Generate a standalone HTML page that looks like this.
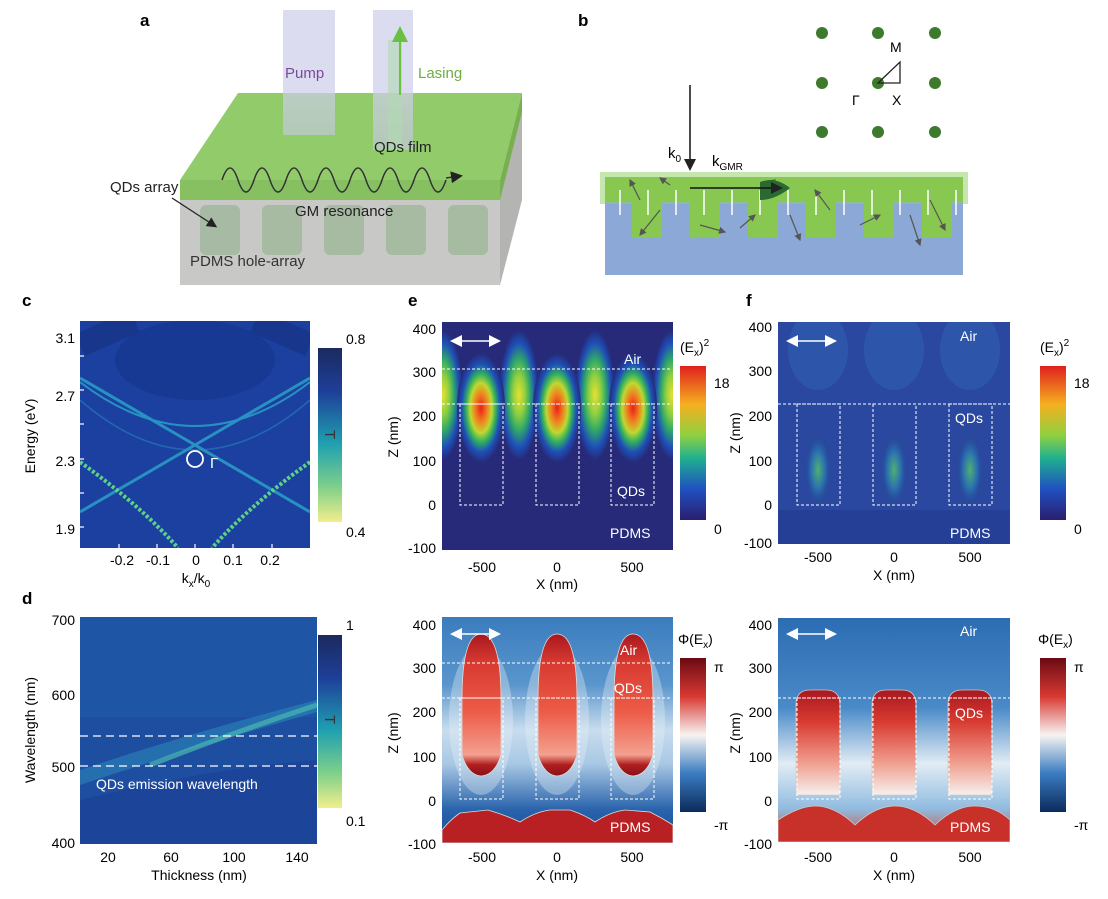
<!DOCTYPE html>
<html><head><meta charset="utf-8"><style>
body{margin:0;background:#fff}
svg text{font-family:"Liberation Sans",Arial,sans-serif;}
</style></head><body>
<svg width="1108" height="894" viewBox="0 0 1108 894" xmlns="http://www.w3.org/2000/svg">
<defs>
<linearGradient id="viri" x1="0" y1="0" x2="0" y2="1">
<stop offset="0" stop-color="#1b2a5e"/><stop offset="0.25" stop-color="#1e3f99"/><stop offset="0.55" stop-color="#1fa0b0"/><stop offset="0.8" stop-color="#7fd08a"/><stop offset="1" stop-color="#f2ee8c"/></linearGradient>
<linearGradient id="jet" x1="0" y1="0" x2="0" y2="1">
<stop offset="0" stop-color="#e0201e"/><stop offset="0.25" stop-color="#f5b020"/><stop offset="0.45" stop-color="#8fd040"/><stop offset="0.6" stop-color="#20b090"/><stop offset="0.8" stop-color="#2050c0"/><stop offset="1" stop-color="#2a1e6e"/></linearGradient>
<linearGradient id="phase" x1="0" y1="0" x2="0" y2="1">
<stop offset="0" stop-color="#6b0a14"/><stop offset="0.25" stop-color="#d83a32"/><stop offset="0.5" stop-color="#f7f4f2"/><stop offset="0.75" stop-color="#3a7cc0"/><stop offset="1" stop-color="#0c2a5c"/></linearGradient>
<radialGradient id="hot" cx="0.5" cy="0.5" r="0.5">
<stop offset="0" stop-color="#e82018"/><stop offset="0.25" stop-color="#f08020"/><stop offset="0.45" stop-color="#c0d830"/><stop offset="0.62" stop-color="#30b060"/><stop offset="0.8" stop-color="#1e50b8"/><stop offset="1" stop-color="#262a78"/></radialGradient>
<radialGradient id="warm" cx="0.5" cy="0.5" r="0.5">
<stop offset="0" stop-color="#e8e030"/><stop offset="0.3" stop-color="#90d040"/><stop offset="0.55" stop-color="#30a868"/><stop offset="0.8" stop-color="#1e50b8"/><stop offset="1" stop-color="#262a78"/></radialGradient>
<radialGradient id="weak" cx="0.5" cy="0.5" r="0.5">
<stop offset="0" stop-color="#50b070"/><stop offset="0.5" stop-color="#2a70b0"/><stop offset="1" stop-color="#24408a" stop-opacity="0"/></radialGradient>
<linearGradient id="redE" x1="0" y1="0" x2="0" y2="1">
<stop offset="0" stop-color="#a81820"/><stop offset="0.2" stop-color="#d83a30"/><stop offset="0.55" stop-color="#ec5c48"/><stop offset="0.85" stop-color="#f4a090"/><stop offset="0.92" stop-color="#b02020"/><stop offset="1" stop-color="#8a1018"/></linearGradient>
<linearGradient id="redF" x1="0" y1="0" x2="0" y2="1">
<stop offset="0" stop-color="#a81820"/><stop offset="0.3" stop-color="#d83a30"/><stop offset="0.7" stop-color="#f0a090"/><stop offset="1" stop-color="#f6f0ee"/></linearGradient>
<linearGradient id="bgP" x1="0" y1="0" x2="0" y2="1">
<stop offset="0" stop-color="#3a7cbe"/><stop offset="0.3" stop-color="#5a96cc"/><stop offset="0.5" stop-color="#c8dcee"/><stop offset="0.65" stop-color="#a8c8e4"/><stop offset="0.85" stop-color="#2a64ac"/><stop offset="1" stop-color="#1a4a94"/></linearGradient>
<linearGradient id="bgF" x1="0" y1="0" x2="0" y2="1">
<stop offset="0" stop-color="#2c6cb2"/><stop offset="0.4" stop-color="#4a8ac8"/><stop offset="0.65" stop-color="#e2ecf4"/><stop offset="0.85" stop-color="#90bce0"/><stop offset="1" stop-color="#c84a3a"/></linearGradient>
<linearGradient id="pump" x1="0" y1="0" x2="0" y2="1"><stop offset="0" stop-color="#d8d8ee" stop-opacity="0.9"/><stop offset="1" stop-color="#c8c8e8" stop-opacity="0.6"/></linearGradient>
<clipPath id="cc"><rect x="80" y="321" width="230" height="227"/></clipPath>
<marker id="ah" markerWidth="8" markerHeight="8" refX="6" refY="4" orient="auto"><path d="M0,0 L8,4 L0,8 z" fill="#fff"/></marker>
<marker id="ahk" markerWidth="8" markerHeight="8" refX="6" refY="4" orient="auto"><path d="M0,0 L8,4 L0,8 z" fill="#222"/></marker>
<marker id="ahg" markerWidth="6" markerHeight="6" refX="5" refY="3" orient="auto"><path d="M0,0 L6,3 L0,6 z" fill="#555"/></marker>
<marker id="ahgr" markerWidth="8" markerHeight="8" refX="6" refY="4" orient="auto"><path d="M0,0 L8,4 L0,8 z" fill="#6ac040"/></marker>
<marker id="ahs" markerWidth="8" markerHeight="8" refX="6" refY="4" orient="auto-start-reverse"><path d="M0,0 L8,4 L0,8 z" fill="#fff"/></marker>
</defs>

<!-- Panel a -->
<text x="140" y="26" font-size="17" font-weight="bold">a</text>
<polygon points="180,180 500,180 500,285 180,285" fill="#c8c9c6"/>
<polygon points="500,180 522,93 522,200 500,285" fill="#b4b5b2"/>
<polygon points="180,180 500,180 500,200 180,200" fill="#86c060"/>
<polygon points="500,180 522,93 522,112 500,200" fill="#78b050"/>
<polygon points="180,180 238,93 522,93 500,180" fill="#92cc6a"/>
<g fill="#9fb79a" opacity="0.8">
<rect x="200" y="205" width="40" height="50" rx="6"/><rect x="262" y="205" width="40" height="50" rx="6"/><rect x="324" y="205" width="40" height="50" rx="6"/><rect x="386" y="205" width="40" height="50" rx="6"/><rect x="448" y="205" width="40" height="50" rx="6"/></g>
<rect x="283" y="10" width="52" height="125" fill="url(#pump)"/>
<rect x="373" y="10" width="40" height="140" fill="url(#pump)"/>
<rect x="388" y="40" width="14" height="110" fill="#b0d8b0" opacity="0.6"/>
<line x1="400" y1="95" x2="400" y2="30" stroke="#6ac040" stroke-width="2" marker-end="url(#ahgr)"/>
<path d="M222,180 q8,-24 16,0 t16,0 t16,0 t16,0 t16,0 t16,0 t16,0 t16,0 t16,0 t16,0 t16,0 t16,0 t16,0 t16,0" fill="none" stroke="#333" stroke-width="1.5"/>
<line x1="446" y1="178" x2="460" y2="176" stroke="#333" stroke-width="1.5" marker-end="url(#ahk)"/>
<text x="285" y="78" font-size="15" fill="#7a4a9a">Pump</text>
<text x="418" y="78" font-size="15" fill="#6ab040">Lasing</text>
<text x="374" y="152" font-size="15" fill="#222">QDs film</text>
<text x="110" y="192" font-size="15" fill="#222">QDs array</text>
<line x1="172" y1="198" x2="215" y2="226" stroke="#222" stroke-width="1.3" marker-end="url(#ahk)"/>
<text x="295" y="216" font-size="15" fill="#222">GM resonance</text>
<text x="190" y="266" font-size="15" fill="#333">PDMS hole-array</text>

<!-- Panel b -->
<text x="578" y="26" font-size="17" font-weight="bold">b</text>
<g fill="#3e7a2e">
<circle cx="822" cy="33" r="6"/><circle cx="878" cy="33" r="6"/><circle cx="935" cy="33" r="6"/>
<circle cx="822" cy="83" r="6"/><circle cx="878" cy="83" r="6"/><circle cx="935" cy="83" r="6"/>
<circle cx="822" cy="132" r="6"/><circle cx="878" cy="132" r="6"/><circle cx="935" cy="132" r="6"/></g>
<polygon points="878,83 900,83 900,62" fill="none" stroke="#222" stroke-width="1.3"/>
<text x="890" y="52" font-size="14">M</text><text x="852" y="105" font-size="14">Γ</text><text x="892" y="105" font-size="14">X</text>
<rect x="605" y="200" width="358" height="75" fill="#8ca8d6"/>
<rect x="600" y="172" width="368" height="32" fill="#8cd060" opacity="0.5"/>
<rect x="605" y="177" width="358" height="25" fill="#88c850"/>
<g fill="#88c850"><rect x="632" y="200" width="30" height="38"/><rect x="690" y="200" width="30" height="38"/><rect x="748" y="200" width="30" height="38"/><rect x="806" y="200" width="30" height="38"/><rect x="864" y="200" width="30" height="38"/><rect x="922" y="200" width="30" height="38"/></g>
<g stroke="#fff" stroke-width="1.5">
<line x1="620" y1="215" x2="620" y2="190"/><line x1="648" y1="215" x2="648" y2="190"/><line x1="676" y1="215" x2="676" y2="190"/><line x1="704" y1="215" x2="704" y2="190"/><line x1="732" y1="215" x2="732" y2="190"/><line x1="760" y1="215" x2="760" y2="190"/><line x1="788" y1="215" x2="788" y2="190"/><line x1="816" y1="215" x2="816" y2="190"/><line x1="844" y1="215" x2="844" y2="190"/><line x1="872" y1="215" x2="872" y2="190"/><line x1="900" y1="215" x2="900" y2="190"/><line x1="928" y1="215" x2="928" y2="190"/><line x1="956" y1="215" x2="956" y2="190"/></g>
<g stroke="#555" stroke-width="1.2" marker-end="url(#ahg)">
<line x1="640" y1="200" x2="630" y2="180"/><line x1="660" y1="210" x2="640" y2="235"/><line x1="700" y1="225" x2="725" y2="232"/><line x1="740" y1="228" x2="755" y2="215"/><line x1="790" y1="215" x2="800" y2="240"/><line x1="830" y1="210" x2="815" y2="190"/><line x1="860" y1="225" x2="880" y2="215"/><line x1="910" y1="215" x2="920" y2="245"/><line x1="930" y1="200" x2="945" y2="230"/><line x1="670" y1="185" x2="660" y2="178"/><line x1="760" y1="190" x2="775" y2="180"/></g>
<path d="M760,182 q15,-6 30,6 q-15,12 -30,12 z" fill="#2a6a30"/>
<line x1="690" y1="188" x2="780" y2="188" stroke="#111" stroke-width="1.5" marker-end="url(#ahk)"/>
<line x1="690" y1="85" x2="690" y2="168" stroke="#111" stroke-width="1.5" marker-end="url(#ahk)"/>
<text x="668" y="158" font-size="15">k<tspan font-size="10" dy="4">0</tspan></text>
<text x="712" y="166" font-size="15">k<tspan font-size="10" dy="4">GMR</tspan></text>

<!-- Panel c -->
<text x="22" y="306" font-size="17" font-weight="bold">c</text>
<g clip-path="url(#cc)">
<rect x="80" y="321" width="230" height="227" fill="#1b40a0"/>
<path d="M80,345 L135,321 M310,345 L255,321" stroke="#16307a" stroke-width="24" opacity="0.5"/>
<ellipse cx="195" cy="360" rx="80" ry="40" fill="#17358a" opacity="0.6"/>
<g fill="none" stroke="#2aa0c8" stroke-width="3" opacity="0.85">
<path d="M80,512 L195,445 L310,378"/><path d="M310,512 L195,445 L80,378"/>
<path d="M80,382 Q195,470 310,382" stroke-width="2"/>
<path d="M80,400 Q195,500 310,400" stroke-width="1.5" opacity="0.5"/>
</g>
<g fill="none" stroke="#5ed088" stroke-width="4" stroke-dasharray="3,2">
<path d="M80,462 Q140,505 178,548"/><path d="M310,462 Q250,505 212,548"/></g>
</g>
<circle cx="195" cy="459" r="8" fill="none" stroke="#fff" stroke-width="1.8"/>
<text x="210" y="468" font-size="15" fill="#fff">Γ</text>
<g stroke="#fff" stroke-width="1.2"><line x1="80" y1="356" x2="84" y2="356"/><line x1="80" y1="390" x2="84" y2="390"/><line x1="80" y1="424" x2="84" y2="424"/><line x1="80" y1="459" x2="84" y2="459"/><line x1="80" y1="493" x2="84" y2="493"/><line x1="80" y1="527" x2="84" y2="527"/>
<line x1="119" y1="548" x2="119" y2="544"/><line x1="157" y1="548" x2="157" y2="544"/><line x1="195" y1="548" x2="195" y2="544"/><line x1="233" y1="548" x2="233" y2="544"/><line x1="272" y1="548" x2="272" y2="544"/></g>
<g font-size="14" text-anchor="end"><text x="75" y="343">3.1</text><text x="75" y="401">2.7</text><text x="75" y="466">2.3</text><text x="75" y="534">1.9</text></g>
<g font-size="14" text-anchor="middle"><text x="122" y="565">-0.2</text><text x="158" y="565">-0.1</text><text x="196" y="565">0</text><text x="233" y="565">0.1</text><text x="270" y="565">0.2</text></g>
<text x="196" y="583" font-size="14" text-anchor="middle">k<tspan font-size="10" dy="4">x</tspan><tspan dy="-4">/k</tspan><tspan font-size="10" dy="4">0</tspan></text>
<text transform="translate(35,436) rotate(-90)" font-size="14" text-anchor="middle">Energy (eV)</text>
<rect x="318" y="348" width="24" height="174" fill="url(#viri)"/>
<text x="346" y="344" font-size="14">0.8</text><text x="346" y="537" font-size="14">0.4</text>
<text transform="translate(325,430) rotate(90)" font-size="15" fill="#333">T</text>

<!-- Panel d -->
<text x="22" y="604" font-size="17" font-weight="bold">d</text>
<rect x="80" y="617" width="237" height="227" fill="#1e4ea0"/>
<rect x="80" y="617" width="237" height="100" fill="#1f5aa8" opacity="0.6"/>
<path d="M80,770 Q200,730 317,700 L317,712 Q200,745 80,785 z" fill="#2a86b8" opacity="0.6"/>
<path d="M150,765 Q240,730 317,705" stroke="#48b8b0" stroke-width="5" fill="none" opacity="0.7"/>
<path d="M80,800 Q200,770 317,760 L317,844 L80,844 z" fill="#1b3f94" opacity="0.6"/>
<line x1="80" y1="736" x2="317" y2="736" stroke="#fff" stroke-width="1.3" stroke-dasharray="8,5"/>
<line x1="80" y1="766" x2="317" y2="766" stroke="#fff" stroke-width="1.3" stroke-dasharray="8,5"/>
<text x="96" y="789" font-size="14" fill="#fff">QDs emission wavelength</text>
<g font-size="14" text-anchor="end"><text x="75" y="625">700</text><text x="75" y="700">600</text><text x="75" y="772">500</text><text x="75" y="848">400</text></g>
<g font-size="14" text-anchor="middle"><text x="108" y="862">20</text><text x="171" y="862">60</text><text x="234" y="862">100</text><text x="297" y="862">140</text></g>
<text x="199" y="880" font-size="14" text-anchor="middle">Thickness (nm)</text>
<text transform="translate(35,730) rotate(-90)" font-size="14" text-anchor="middle">Wavelength (nm)</text>
<rect x="318" y="635" width="24" height="173" fill="url(#viri)"/>
<text x="346" y="630" font-size="14">1</text><text x="346" y="826" font-size="14">0.1</text>
<text transform="translate(325,715) rotate(90)" font-size="15" fill="#333">T</text>

<!-- Panel e top -->
<text x="408" y="306" font-size="17" font-weight="bold">e</text>
<svg x="442" y="322" width="231" height="228" viewBox="442 322 231 228">
<rect x="442" y="322" width="231" height="228" fill="#262a78"/>
<ellipse cx="519" cy="395" rx="20" ry="65" fill="url(#warm)"/>
<ellipse cx="595" cy="395" rx="20" ry="65" fill="url(#warm)"/>
<ellipse cx="443" cy="395" rx="20" ry="65" fill="url(#warm)"/>
<ellipse cx="672" cy="395" rx="20" ry="65" fill="url(#warm)"/>
<ellipse cx="481" cy="408" rx="24" ry="55" fill="url(#hot)"/>
<ellipse cx="557" cy="408" rx="24" ry="55" fill="url(#hot)"/>
<ellipse cx="633" cy="408" rx="24" ry="55" fill="url(#hot)"/>
</svg>
<g fill="none" stroke="#fff" stroke-width="1" stroke-dasharray="3,2">
<line x1="442" y1="369" x2="672" y2="369"/><line x1="442" y1="404" x2="672" y2="404"/>
<rect x="460" y="404" width="43" height="101"/><rect x="536" y="404" width="43" height="101"/><rect x="611" y="404" width="43" height="101"/></g>
<line x1="453" y1="341" x2="498" y2="341" stroke="#fff" stroke-width="1.5" marker-end="url(#ah)" marker-start="url(#ahs)"/>
<text x="624" y="364" font-size="14" fill="#fff">Air</text><text x="617" y="496" font-size="14" fill="#fff">QDs</text><text x="610" y="538" font-size="14" fill="#fff">PDMS</text>
<g font-size="14" text-anchor="end"><text x="436" y="334">400</text><text x="436" y="377">300</text><text x="436" y="421">200</text><text x="436" y="466">100</text><text x="436" y="510">0</text><text x="436" y="553">-100</text></g>
<g font-size="14" text-anchor="middle"><text x="482" y="572">-500</text><text x="557" y="572">0</text><text x="632" y="572">500</text></g>
<text x="557" y="589" font-size="14" text-anchor="middle">X (nm)</text>
<text transform="translate(398,437) rotate(-90)" font-size="14" text-anchor="middle">Z (nm)</text>
<text x="680" y="352" font-size="14">(E<tspan font-size="10" dy="4">x</tspan><tspan dy="-4">)</tspan><tspan font-size="10" dy="-6">2</tspan></text>
<rect x="680" y="366" width="26" height="154" fill="url(#jet)"/>
<text x="714" y="388" font-size="14">18</text><text x="714" y="534" font-size="14">0</text>

<!-- Panel e bottom -->
<svg x="442" y="617" width="231" height="226" viewBox="442 617 231 226">
<rect x="442" y="617" width="231" height="226" fill="url(#bgP)"/>
<ellipse cx="481" cy="720" rx="32" ry="75" fill="#e8f0f6" opacity="0.35"/>
<ellipse cx="557" cy="720" rx="32" ry="75" fill="#e8f0f6" opacity="0.35"/>
<ellipse cx="633" cy="720" rx="32" ry="75" fill="#e8f0f6" opacity="0.35"/>
<path d="M462,700 Q462,634 481,634 Q501,634 501,700 L501,755 Q495,775 481,776 Q468,775 462,755 z" fill="url(#redE)" stroke="#ddd" stroke-width="0.8"/>
<path d="M538,700 Q538,634 557,634 Q577,634 577,700 L577,755 Q571,775 557,776 Q544,775 538,755 z" fill="url(#redE)" stroke="#ddd" stroke-width="0.8"/>
<path d="M614,700 Q614,634 633,634 Q653,634 653,700 L653,755 Q647,775 633,776 Q620,775 614,755 z" fill="url(#redE)" stroke="#ddd" stroke-width="0.8"/>
<path d="M442,843 L442,830 Q450,820 460,813 L488,810 Q505,815 520,822 Q535,812 550,810 L570,810 Q585,815 595,822 Q610,812 625,810 L650,812 Q662,818 673,825 L673,843 z" fill="#b82024" stroke="#ddd" stroke-width="0.8"/>
</svg>
<g fill="none" stroke="#fff" stroke-width="1" stroke-dasharray="3,2">
<line x1="442" y1="663" x2="672" y2="663"/><line x1="442" y1="698" x2="672" y2="698"/>
<rect x="460" y="698" width="43" height="101"/><rect x="536" y="698" width="43" height="101"/><rect x="611" y="698" width="43" height="101"/></g>
<line x1="453" y1="634" x2="498" y2="634" stroke="#fff" stroke-width="1.5" marker-end="url(#ah)" marker-start="url(#ahs)"/>
<text x="620" y="655" font-size="14" fill="#fff">Air</text><text x="614" y="693" font-size="14" fill="#fff">QDs</text><text x="610" y="832" font-size="14" fill="#fff">PDMS</text>
<g font-size="14" text-anchor="end"><text x="436" y="630">400</text><text x="436" y="673">300</text><text x="436" y="717">200</text><text x="436" y="762">100</text><text x="436" y="806">0</text><text x="436" y="849">-100</text></g>
<g font-size="14" text-anchor="middle"><text x="482" y="862">-500</text><text x="557" y="862">0</text><text x="632" y="862">500</text></g>
<text x="557" y="880" font-size="14" text-anchor="middle">X (nm)</text>
<text transform="translate(398,733) rotate(-90)" font-size="14" text-anchor="middle">Z (nm)</text>
<text x="678" y="644" font-size="14">Φ(E<tspan font-size="10" dy="4">x</tspan><tspan dy="-4">)</tspan></text>
<rect x="680" y="658" width="26" height="154" fill="url(#phase)"/>
<text x="714" y="672" font-size="14">π</text><text x="714" y="830" font-size="14">-π</text>

<!-- Panel f top -->
<text x="746" y="306" font-size="17" font-weight="bold">f</text>
<svg x="778" y="322" width="232" height="222" viewBox="778 322 232 222">
<rect x="778" y="322" width="232" height="222" fill="#2a48a0"/>
<ellipse cx="818" cy="350" rx="30" ry="40" fill="#3060b0" opacity="0.6"/>
<ellipse cx="894" cy="350" rx="30" ry="40" fill="#3060b0" opacity="0.6"/>
<ellipse cx="970" cy="350" rx="30" ry="40" fill="#3060b0" opacity="0.6"/>
<ellipse cx="818" cy="470" rx="14" ry="38" fill="url(#weak)"/>
<ellipse cx="894" cy="470" rx="14" ry="38" fill="url(#weak)"/>
<ellipse cx="970" cy="470" rx="14" ry="38" fill="url(#weak)"/>
<rect x="778" y="510" width="232" height="34" fill="#253a90" opacity="0.6"/>
</svg>
<g fill="none" stroke="#fff" stroke-width="1" stroke-dasharray="3,2">
<line x1="778" y1="404" x2="1010" y2="404"/>
<rect x="797" y="404" width="43" height="101"/><rect x="873" y="404" width="43" height="101"/><rect x="949" y="404" width="43" height="101"/></g>
<line x1="789" y1="341" x2="834" y2="341" stroke="#fff" stroke-width="1.5" marker-end="url(#ah)" marker-start="url(#ahs)"/>
<text x="960" y="341" font-size="14" fill="#fff">Air</text><text x="955" y="423" font-size="14" fill="#fff">QDs</text><text x="950" y="538" font-size="14" fill="#fff">PDMS</text>
<g font-size="14" text-anchor="end"><text x="772" y="332">400</text><text x="772" y="376">300</text><text x="772" y="421">200</text><text x="772" y="466">100</text><text x="772" y="510">0</text><text x="772" y="548">-100</text></g>
<g font-size="14" text-anchor="middle"><text x="818" y="562">-500</text><text x="894" y="562">0</text><text x="970" y="562">500</text></g>
<text x="894" y="580" font-size="14" text-anchor="middle">X (nm)</text>
<text transform="translate(740,433) rotate(-90)" font-size="14" text-anchor="middle">Z (nm)</text>
<text x="1040" y="352" font-size="14">(E<tspan font-size="10" dy="4">x</tspan><tspan dy="-4">)</tspan><tspan font-size="10" dy="-6">2</tspan></text>
<rect x="1040" y="366" width="26" height="154" fill="url(#jet)"/>
<text x="1074" y="388" font-size="14">18</text><text x="1074" y="534" font-size="14">0</text>

<!-- Panel f bottom -->
<svg x="778" y="618" width="232" height="224" viewBox="778 618 232 224">
<rect x="778" y="618" width="232" height="224" fill="url(#bgF)"/>
<path d="M796,795 L796,705 Q796,690 810,690 L826,690 Q840,690 840,705 L840,795 z" fill="url(#redF)" stroke="#ccc" stroke-width="0.8"/>
<path d="M872,795 L872,705 Q872,690 886,690 L902,690 Q916,690 916,705 L916,795 z" fill="url(#redF)" stroke="#ccc" stroke-width="0.8"/>
<path d="M948,795 L948,705 Q948,690 962,690 L978,690 Q992,690 992,705 L992,795 z" fill="url(#redF)" stroke="#ccc" stroke-width="0.8"/>
<path d="M778,842 L778,820 Q800,806 815,806 Q835,806 855,825 Q875,806 895,806 Q915,806 935,825 Q955,806 975,806 Q995,806 1010,820 L1010,842 z" fill="#c8302a" stroke="#ccc" stroke-width="0.8"/>
</svg>
<g fill="none" stroke="#fff" stroke-width="1" stroke-dasharray="3,2">
<line x1="778" y1="698" x2="1010" y2="698"/>
<rect x="797" y="698" width="43" height="101"/><rect x="873" y="698" width="43" height="101"/><rect x="949" y="698" width="43" height="101"/></g>
<line x1="789" y1="634" x2="834" y2="634" stroke="#fff" stroke-width="1.5" marker-end="url(#ah)" marker-start="url(#ahs)"/>
<text x="960" y="636" font-size="14" fill="#fff">Air</text><text x="955" y="718" font-size="14" fill="#fff">QDs</text><text x="950" y="832" font-size="14" fill="#fff">PDMS</text>
<g font-size="14" text-anchor="end"><text x="772" y="630">400</text><text x="772" y="673">300</text><text x="772" y="717">200</text><text x="772" y="762">100</text><text x="772" y="806">0</text><text x="772" y="849">-100</text></g>
<g font-size="14" text-anchor="middle"><text x="818" y="862">-500</text><text x="894" y="862">0</text><text x="970" y="862">500</text></g>
<text x="894" y="880" font-size="14" text-anchor="middle">X (nm)</text>
<text transform="translate(740,733) rotate(-90)" font-size="14" text-anchor="middle">Z (nm)</text>
<text x="1038" y="644" font-size="14">Φ(E<tspan font-size="10" dy="4">x</tspan><tspan dy="-4">)</tspan></text>
<rect x="1040" y="658" width="26" height="154" fill="url(#phase)"/>
<text x="1074" y="672" font-size="14">π</text><text x="1074" y="830" font-size="14">-π</text>
</svg>
</body></html>
